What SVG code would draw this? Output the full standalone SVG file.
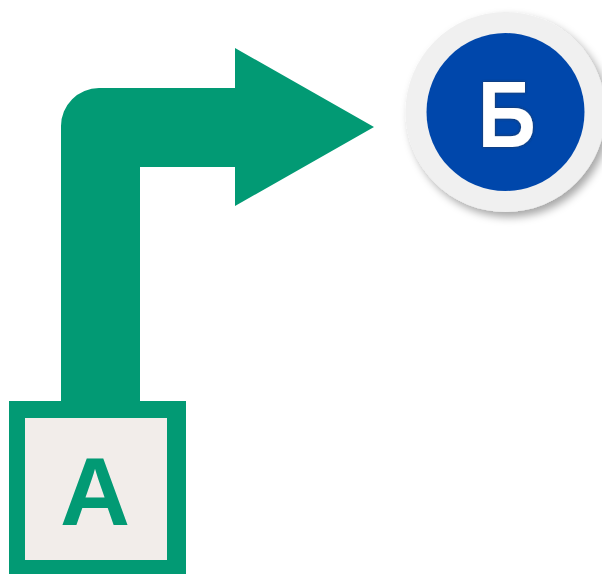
<svg xmlns="http://www.w3.org/2000/svg" width="602" height="574" viewBox="0 0 602 574">
<defs>
<filter id="sh" x="-20%" y="-20%" width="150%" height="150%">
<feDropShadow dx="4" dy="5" stdDeviation="4" flood-color="#000" flood-opacity="0.35"/>
</filter>
<filter id="emb" x="-20%" y="-20%" width="140%" height="140%">
<feDropShadow dx="0" dy="0" stdDeviation="1.5" flood-color="#333" flood-opacity="0.8"/>
</filter>
<style>
.lbl{font-family:"Liberation Sans",Arial,sans-serif;font-weight:bold;text-anchor:middle}
</style>
</defs>
<rect width="602" height="574" fill="#fff"/>
<g id="connectors">
<path d="M61,402 L61,126 A38,38 0 0 1 99,88 L235,88 L235,48 L374,127 L235,206 L235,167 L140,167 L140,402 Z" fill="#029A74"/>
</g>
<g id="node-A">
<rect x="9" y="401" width="177" height="175" fill="#029A74"/>
<rect x="25" y="418" width="142" height="142" fill="#F2EDEA"/>
<text class="lbl" x="95" y="525" font-size="97" fill="#029A74">А</text>
</g>
<g id="node-B">
<circle cx="505.5" cy="112" r="100" fill="#F0F0F0" filter="url(#sh)"/>
<circle cx="505.5" cy="112" r="79" fill="#0047AB"/>
<text class="lbl" x="506.7" y="147" font-size="95" fill="#fff" filter="url(#emb)" textLength="58" lengthAdjust="spacingAndGlyphs">Б</text>
</g>
</svg>
